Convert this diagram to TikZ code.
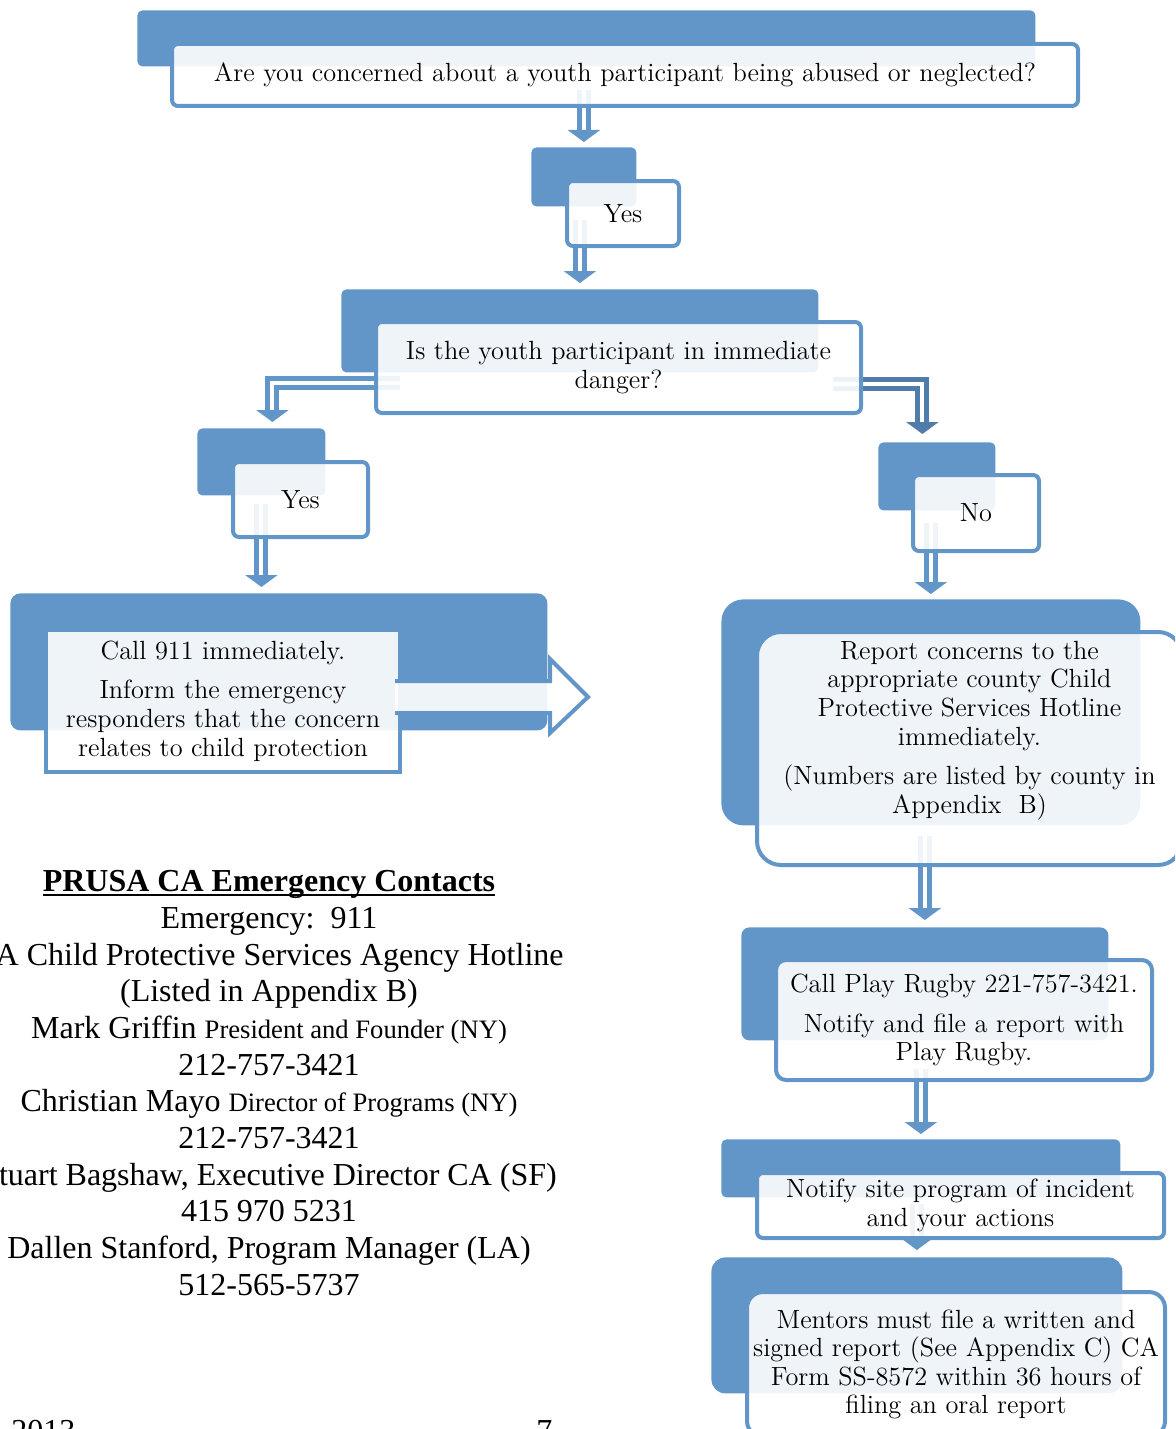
\documentclass[tikz,border=0pt]{standalone}
\usepackage{fontspec}
\newfontfamily\contactfont{Liberation Serif}
\usetikzlibrary{arrows.meta,positioning,calc,backgrounds}

\definecolor{boxblue}{RGB}{98,150,201}
\definecolor{elbowblue}{RGB}{80,124,170}

% underline just below the baseline
\newcommand{\headrule}[1]{\setbox0\hbox{#1}\rlap{\rule[-2.2pt]{\wd0}{0.9pt}}\box0}

\tikzset{
  backbox/.style={fill=boxblue, anchor=north west, inner sep=0pt,
    rounded corners=2.5pt},
  frontbox/.style={draw=boxblue, line width=2pt, fill=white,
    fill opacity=0.9, text opacity=1, anchor=north west, inner sep=0pt,
    rounded corners=3pt, align=center,
    font=\fontsize{13.15}{14.3}\selectfont},
  flow/.style={draw=boxblue, line width=2.5pt, double=white,
    double distance=2pt, -{Triangle[length=6pt,width=16pt]}},
  flowdark/.style={flow, draw=elbowblue}
}

\begin{document}
\begin{tikzpicture}[x=0.5pt, y=-0.5pt]
  \def\px{0.5pt}
  \useasboundingbox (0,0) rectangle (1175,1429);
  \clip (0,0) rectangle (1175,1429);

  % back boxes
  \node[backbox, minimum width=898*\px, minimum height=56*\px] (q1b) at (137,10) {};
  \node[backbox, minimum width=105*\px, minimum height=59*\px] (y1b) at (531,147) {};
  \node[backbox, minimum width=477*\px, minimum height=83*\px] (q2b) at (341,289) {};
  \node[backbox, minimum width=128*\px, minimum height=67*\px] (y2b) at (197,428) {};
  \node[backbox, minimum width=117*\px, minimum height=68*\px] (nob) at (878,442) {};
  \node[backbox, minimum width=537*\px, minimum height=137*\px,
        rounded corners=5pt] (c9b) at (10,593) {};
  \node[backbox, minimum width=419*\px, minimum height=226*\px,
        rounded corners=11pt] (rpb) at (721,599) {};
  \node[backbox, minimum width=367*\px, minimum height=113*\px,
        rounded corners=4pt] (rgb) at (741,927) {};
  \node[backbox, minimum width=399*\px, minimum height=58*\px] (ntb) at (721,1139) {};
  \node[backbox, minimum width=411*\px, minimum height=136*\px,
        rounded corners=7pt] (mnb) at (711,1257) {};

  % front boxes
  \node[frontbox, minimum width=906*\px, minimum height=62*\px] (q1) at (170,42)
    {Are you concerned about a youth participant being abused or neglected?};
  \node[frontbox, minimum width=112*\px, minimum height=65*\px] (y1) at (565,179) {Yes};
  \node[frontbox, minimum width=485*\px, minimum height=91*\px] (q2) at (374,320)
    {Is the youth participant in immediate\\ danger?};
  \node[frontbox, minimum width=135*\px, minimum height=75*\px] (y2) at (231,460) {Yes};
  \node[frontbox, minimum width=126*\px, minimum height=76*\px] (no) at (911,473) {No};
  \node[frontbox, rounded corners=0pt, minimum width=354*\px,
        minimum height=142*\px] (c9) at (44,628)
    {Call 911 immediately.\\[5.5pt] Inform the emergency\\
     responders that the concern\\ relates to child protection};
  \node[frontbox, rounded corners=12pt, minimum width=425*\px,
        minimum height=233*\px] (rp) at (755,630)
    {\raisebox{6pt}[0pt][0pt]{\begin{tabular}{@{}c@{}}
      Report concerns to the\\ appropriate county Child\\
      Protective Services Hotline\\ immediately.\\[5.5pt]
      (Numbers are listed by county in\\ Appendix~ B)\end{tabular}}};
  \node[frontbox, rounded corners=5pt, minimum width=376*\px,
        minimum height=120*\px] (rg) at (774,958)
    {Call Play Rugby 221-757-3421.\\[5.5pt] Notify and file a report with\\ Play Rugby.};
  \node[frontbox, minimum width=407*\px, minimum height=65*\px] (nt) at (755,1171)
    {Notify site program of incident\\ and your actions};
  \node[frontbox, rounded corners=8pt, minimum width=418*\px,
        minimum height=145*\px] (mn) at (745,1290)
    {Mentors must file a written and\\ signed report (See Appendix C) CA\\
     Form SS-8572 within 36 hours of\\ filing an oral report};

  % arrow out of the 911 box
  \draw[draw=boxblue, line width=2pt, fill=white, fill opacity=0.9]
    (395,681) -- (550,681) -- (550,659) -- (588,697) -- (550,733)
    -- (550,713) -- (395,713);

  % connectors
  \begin{scope}[on background layer]
    \draw[flow] ($(q1.south -| y1b.north)+(0,-18)$) -- ($(y1b.north)+(0,-5)$);
    \draw[flow] ($(y1.south -| q2b.north)+(0,-28)$) -- ($(q2b.north)+(0,-6)$);
    \draw[flow] ([shift={(26,15.5)}]q2.west) -| ([shift={(11,-6)}]y2b.north);
    \draw[flowdark] ([shift={(-30,16.5)}]q2.east) -| ([shift={(-14.5,-8)}]nob.north);
    \draw[flow] ($(y2.south -| y2b.south)+(0,-35)$) -- ($(y2b.south |- c9b.north)+(0,-6)$);
    \draw[flow] ($(no.south -| rpb.north)+(0,-30)$) -- ($(rpb.north)+(0,-5)$);
    \draw[flow] ($(rp.south -| rgb.north)+(0,-31)$) -- ($(rgb.north)+(0,-7)$);
    \draw[flow] ($(rg.south -| ntb.north)+(0,-13)$) -- ($(ntb.north)+(0,-5)$);
    \draw[flow] ($(nt.south -| mnb.north)+(0,-36)$) -- ($(mnb.north)+(0,-7)$);
  \end{scope}

  % contacts
  \node[font=\contactfont\fontsize{16}{18.35}\selectfont, align=center,
        anchor=north, inner sep=0pt] (contacts) at (269,870)
    {\headrule{\textbf{PRUSA CA Emergency Contacts}}\\
     Emergency:~~911\\
     CA Child Protective Services Agency Hotline\\
     (Listed in Appendix B)\\
     Mark Griffin {\fontsize{13.3}{18.35}\selectfont President and Founder (NY)}\\
     212-757-3421\\
     Christian Mayo {\fontsize{13.3}{18.35}\selectfont Director of Programs (NY)}\\
     212-757-3421\\
     Stuart Bagshaw, Executive Director CA (SF)\\
     415 970 5231\\
     Dallen Stanford, Program Manager (LA)\\
     512-565-5737};
  \node[font=\contactfont\fontsize{16}{18}\selectfont, anchor=base west,
        inner sep=0pt] (year) at (11,1441) {2013};
  \node[font=\contactfont\fontsize{16}{18}\selectfont, anchor=base west,
        inner sep=0pt] (page) at (536,1441) {7};
\end{tikzpicture}
\end{document}
